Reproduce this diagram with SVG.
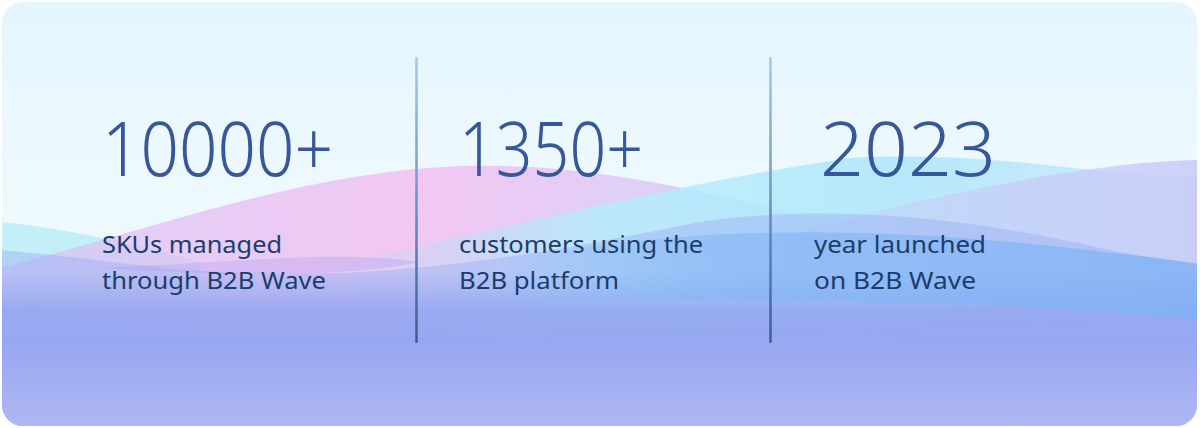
<svg xmlns="http://www.w3.org/2000/svg" width="1200" height="428" viewBox="0 0 1200 428">
<defs>
<clipPath id="card"><rect x="2" y="2" width="1195" height="424" rx="21"/></clipPath>
<linearGradient id="bg" x1="0" y1="0" x2="0" y2="1">
<stop offset="0" stop-color="#e3f5fd"/><stop offset="0.45" stop-color="#eef9fe"/><stop offset="1" stop-color="#eef9fe"/>
</linearGradient>
<linearGradient id="pink" x1="0" y1="0" x2="1" y2="0">
<stop offset="0" stop-color="#d9b8f2" stop-opacity="0.6"/><stop offset="0.35" stop-color="#f2c2f1" stop-opacity="0.9"/><stop offset="0.6" stop-color="#d4c8f6" stop-opacity="0.8"/><stop offset="0.8" stop-color="#c8c4f6" stop-opacity="0.3"/><stop offset="1" stop-color="#c8c4f6" stop-opacity="0"/>
</linearGradient>
<linearGradient id="cyan" x1="0" y1="0" x2="1" y2="0">
<stop offset="0.25" stop-color="#a9d8f8" stop-opacity="0"/><stop offset="0.5" stop-color="#b3eefb" stop-opacity="0.8"/><stop offset="0.75" stop-color="#b0e6fa" stop-opacity="0.9"/><stop offset="1" stop-color="#b8e4fa" stop-opacity="0.6"/>
</linearGradient>
<linearGradient id="purple" x1="0" y1="0" x2="1" y2="0">
<stop offset="0" stop-color="#c9c9f7" stop-opacity="0"/><stop offset="0.5" stop-color="#c9c9f7" stop-opacity="0.6"/><stop offset="1" stop-color="#c6c6f7" stop-opacity="0.8"/>
</linearGradient>
<linearGradient id="sky" x1="0" y1="0" x2="1" y2="0">
<stop offset="0" stop-color="#80b6f5" stop-opacity="0"/><stop offset="0.3" stop-color="#80b6f5" stop-opacity="0.55"/><stop offset="1" stop-color="#7db3f6" stop-opacity="0.75"/>
</linearGradient>
<linearGradient id="bottom" x1="0" y1="0" x2="0" y2="1">
<stop offset="0" stop-color="#8fa2f0" stop-opacity="0"/><stop offset="0.25" stop-color="#8fa2f0" stop-opacity="0.75"/><stop offset="0.45" stop-color="#98a7f1" stop-opacity="1"/><stop offset="1" stop-color="#b0b8f5"/>
</linearGradient>
<linearGradient id="div" gradientUnits="userSpaceOnUse" x1="0" y1="57" x2="0" y2="343">
<stop offset="0" stop-color="#a9c9f2"/><stop offset="1" stop-color="#3e5e92"/>
</linearGradient>
<style>
.num{font-family:"Noto Sans","Inter",sans-serif;font-size:76px;font-weight:300;fill:#36589a}
.sub{font-family:"Noto Sans","Open Sans",sans-serif;font-size:24px;fill:#1b3d6c}
.divider{fill:url(#div)}
</style>
</defs>
<g id="background" clip-path="url(#card)">
<rect x="0" y="0" width="1200" height="428" fill="url(#bg)"/>
<path d="M0,222 C60,228 120,240 200,262 L200,428 L0,428 Z" fill="#b8ecf8" opacity="0.8"/>
<path d="M0,268 C150,230 300,172 460,166 C600,162 720,195 900,240 C1000,262 1100,280 1200,290 L1200,428 L0,428 Z" fill="url(#pink)"/>
<path d="M0,330 C250,300 560,200 850,158 C1000,150 1100,178 1200,176 L1200,428 L0,428 Z" fill="url(#cyan)"/>
<path d="M700,260 C900,200 1080,162 1200,160 L1200,428 L700,428 Z" fill="url(#purple)"/>
<path d="M0,250 C80,256 140,268 220,272 C400,282 560,250 700,222 C850,200 1000,225 1100,248 C1150,258 1180,262 1200,264 L1200,428 L0,428 Z" fill="#9ab0f3" opacity="0.45"/>
<path d="M100,268 C250,262 330,250 420,262 C360,275 250,278 100,268 Z" fill="#b39ef0" opacity="0.35"/>
<rect x="0" y="272" width="1200" height="156" fill="url(#bottom)"/>
<path d="M500,262 C700,222 900,222 1200,264 L1200,320 C1000,300 800,300 500,300 Z" fill="url(#sky)"/>
</g>
<g id="connectors">
<rect class="divider" x="415.2" y="57" width="2.6" height="286" rx="1.3"/>
<rect class="divider" x="769.2" y="57" width="2.6" height="286" rx="1.3"/>
</g>
<g id="stat-skus">
<text class="num" x="102" y="176" textLength="231" lengthAdjust="spacingAndGlyphs">10000+</text>
<text class="sub" x="102" y="253" textLength="180" lengthAdjust="spacingAndGlyphs">SKUs managed</text>
<text class="sub" x="102" y="289" textLength="224" lengthAdjust="spacingAndGlyphs">through B2B Wave</text>
</g>
<g id="stat-customers">
<text class="num" x="459" y="176" textLength="184" lengthAdjust="spacingAndGlyphs">1350+</text>
<text class="sub" x="459" y="253" textLength="244" lengthAdjust="spacingAndGlyphs">customers using the</text>
<text class="sub" x="459" y="289" textLength="160" lengthAdjust="spacingAndGlyphs">B2B platform</text>
</g>
<g id="stat-year">
<text class="num" x="820" y="176" textLength="176" lengthAdjust="spacingAndGlyphs">2023</text>
<text class="sub" x="814" y="253" textLength="172" lengthAdjust="spacingAndGlyphs">year launched</text>
<text class="sub" x="814" y="289" textLength="162" lengthAdjust="spacingAndGlyphs">on B2B Wave</text>
</g>
</svg>
